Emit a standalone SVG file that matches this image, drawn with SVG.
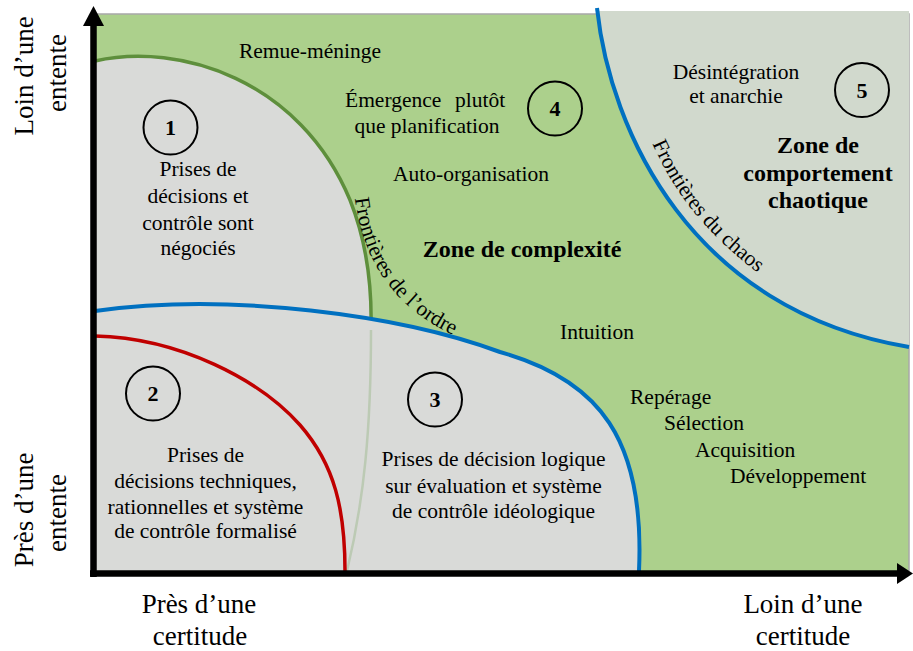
<svg xmlns="http://www.w3.org/2000/svg" width="913" height="651" viewBox="0 0 913 651" font-family="'Liberation Serif', 'Times New Roman', serif">
  <defs>
    <style>
      text { font-family: "Liberation Serif", "Times New Roman", serif; fill: #000; }
      .t { font-size: 21.5px; }
      .c { text-anchor: middle; }
      .b { font-size: 24px; font-weight: bold; }
      .num { font-size: 22px; font-weight: bold; text-anchor: middle; }
      .ax { font-size: 27px; text-anchor: middle; }
      .ring { fill: none; stroke: #000; stroke-width: 2; }
      .grey { fill: #d9dad8; }
    </style>
    <path id="ordrePath" d="M 354,190 C 361,262 395,311 464,340"/>
    <path id="chaosPath" d="M 650,138 C 672,190 705,236 772,283"/>
  </defs>

  <!-- plot background: the complexity zone -->
  <rect x="96" y="14" width="813" height="557" fill="#acd08c"/>
  <path d="M 96,14 H 909 V 571" fill="none" stroke="#a8a8a8" stroke-width="1.5"/>

  <!-- zone 5: chaotic behaviour -->
  <g id="zone5">
    <path d="M 597,11 C 610,130 690,310 909,347 L 909,11 Z" fill="#d1d9cd"/>
  </g>

  <!-- zone 1: negotiated decisions -->
  <g id="zone1">
    <path class="grey" d="M 95,61 C 180,42 300,80 350,200 C 368,245 372,290 371,330 C 371,430 364,500 347,571 L 95,571 Z"/>
  </g>

  <!-- boundary of order (upper part) -->
  <g id="connectors">
    <path d="M 95,61 C 180,42 300,80 350,200 C 368,245 372,290 371,330" fill="none" stroke="#5e8f3c" stroke-width="3.5"/>
  </g>

  <!-- zone 3: logical decisions -->
  <g id="zone3">
    <path class="grey" d="M 95,311 C 230,292 400,315 500,352 C 600,380 645,440 639,571 L 95,571 Z"/>
    <path d="M 371,330 C 371,430 364,500 347,571" fill="none" stroke="#bccab4" stroke-width="2.5"/>
  </g>

  <g id="boundaries">
    <!-- boundary of zone 3 -->
    <path d="M 95,311 C 230,292 400,315 500,352 C 600,380 645,440 639,571" fill="none" stroke="#0070c0" stroke-width="4"/>
    <!-- boundary of zone 2 -->
    <path d="M 95,336 C 180,338 260,380 300,425 C 335,465 345,510 345,571" fill="none" stroke="#c00000" stroke-width="3.5"/>
    <!-- boundary of chaos -->
    <path d="M 597,8 C 610,130 690,310 909,347" fill="none" stroke="#0070c0" stroke-width="4"/>
  </g>

  <!-- axes -->
  <g id="axes">
    <line x1="93.5" y1="577" x2="93.5" y2="24" stroke="#000" stroke-width="6.5"/>
    <polygon points="83,26 104,26 93.5,6" fill="#000"/>
    <line x1="90" y1="573.5" x2="899" y2="573.5" stroke="#000" stroke-width="6.5"/>
    <polygon points="897,563 897,584 913,573.5" fill="#000"/>
  </g>

  <g id="zone1-labels">
    <circle class="ring" cx="170.5" cy="127.5" r="27"/>
    <text class="num" x="170.5" y="135">1</text>
    <text class="t c" x="198" y="176">Prises de</text>
    <text class="t c" x="198" y="203">décisions et</text>
    <text class="t c" x="198" y="230">contrôle sont</text>
    <text class="t c" x="198" y="255">négociés</text>
  </g>

  <g id="zone2-labels">
    <circle class="ring" cx="153" cy="393.5" r="27"/>
    <text class="num" x="153" y="401">2</text>
    <text class="t c" x="205.5" y="462">Prises de</text>
    <text class="t c" x="205.5" y="488">décisions techniques,</text>
    <text class="t c" x="205.5" y="514">rationnelles et système</text>
    <text class="t c" x="205.5" y="538">de contrôle formalisé</text>
  </g>

  <g id="zone3-labels">
    <circle class="ring" cx="435" cy="399.5" r="27"/>
    <text class="num" x="435" y="407">3</text>
    <text class="t c" x="493.5" y="466">Prises de décision logique</text>
    <text class="t c" x="493.5" y="493">sur évaluation et système</text>
    <text class="t c" x="493.5" y="518">de contrôle idéologique</text>
  </g>

  <g id="zone4-labels">
    <circle class="ring" cx="555" cy="108.5" r="27"/>
    <text class="num" x="555" y="116">4</text>
    <text class="t c" x="310" y="58">Remue-méninge</text>
    <text class="t"><tspan x="345" y="107">Émergence</tspan><tspan x="455" y="107">plutôt</tspan></text>
    <text class="t c" x="427" y="133">que planification</text>
    <text class="t c" x="471" y="181">Auto-organisation</text>
    <text class="b c" x="522" y="257">Zone de complexité</text>
    <text class="t c" x="597" y="339">Intuition</text>
    <text class="t" x="630" y="404">Repérage</text>
    <text class="t" x="664" y="430">Sélection</text>
    <text class="t" x="695" y="457">Acquisition</text>
    <text class="t" x="730" y="483">Développement</text>
    <text class="t" font-size="20"><textPath href="#ordrePath" startOffset="8">Frontières de l’ordre</textPath></text>
  </g>

  <g id="zone5-labels">
    <circle class="ring" cx="862" cy="90" r="27"/>
    <text class="num" x="862" y="98">5</text>
    <text class="t c" x="736" y="79">Désintégration</text>
    <text class="t c" x="736" y="103">et anarchie</text>
    <text class="b c" x="818" y="153">Zone de</text>
    <text class="b c" x="818" y="181">comportement</text>
    <text class="b c" x="818" y="208">chaotique</text>
    <text class="t"><textPath href="#chaosPath" startOffset="6">Frontières du chaos</textPath></text>
  </g>

  <!-- axis captions -->
  <g id="axis-labels">
    <text class="ax" transform="translate(33,76) rotate(-90)">Loin d’une</text>
    <text class="ax" transform="translate(66,73) rotate(-90)">entente</text>
    <text class="ax" transform="translate(33,510) rotate(-90)">Près d’une</text>
    <text class="ax" transform="translate(66,513) rotate(-90)">entente</text>
    <text class="ax" x="199" y="613">Près d’une</text>
    <text class="ax" x="200" y="645">certitude</text>
    <text class="ax" x="803" y="613">Loin d’une</text>
    <text class="ax" x="803" y="645">certitude</text>
  </g>
</svg>
